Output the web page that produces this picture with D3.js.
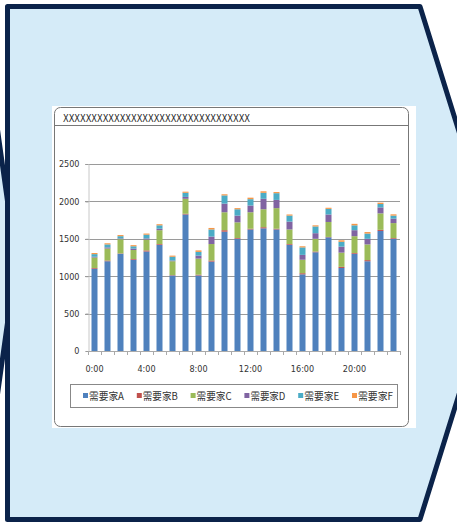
<!DOCTYPE html>
<html>
<head>
<meta charset="utf-8">
<script src="https://cdn.jsdelivr.net/npm/d3@7"></script>
<style>
  html, body { margin: 0; padding: 0; background: #fff; }
  svg { display: block; }
</style>
</head>
<body>
<svg id="chart" width="457" height="523"></svg>
<script>
// data
var hours = d3.range(24);
var hourLabels = ['0:00', '4:00', '8:00', '12:00', '16:00', '20:00'];
var seriesNames = ['需要家A', '需要家B', '需要家C', '需要家D', '需要家E', '需要家F'];
var seriesColors = ['#4f81bd', '#c0504d', '#9bbb59', '#8064a2', '#4bacc6', '#f79646'];

var valuesA = [1100, 1200, 1300, 1220, 1330, 1420, 1010, 1825, 1010, 1195, 1595, 1500,
               1625, 1640, 1625, 1420, 1025, 1320, 1520, 1110, 1300, 1200, 1605, 1500];
var valuesB = [10, 10, 5, 10, 15, 10, 5, 10, 10, 15, 20, 10,
               10, 15, 10, 10, 15, 10, 5, 15, 10, 15, 15, 10];
var valuesC = [140, 160, 190, 120, 145, 185, 185, 200, 215, 220, 240, 210,
               220, 240, 275, 195, 180, 170, 200, 190, 225, 210, 220, 200];
var valuesD = [10, 15, 10, 20, 15, 20, 10, 25, 40, 100, 115, 90,
               90, 140, 110, 105, 65, 75, 100, 80, 80, 75, 80, 60];
var valuesE = [35, 40, 30, 30, 50, 45, 50, 55, 50, 95, 110, 85,
               85, 80, 90, 80, 100, 90, 75, 65, 65, 70, 45, 40];
var valuesF = [15, 15, 15, 15, 15, 15, 15, 15, 20, 20, 15, 15,
               20, 20, 15, 15, 15, 15, 15, 20, 20, 20, 18, 17];
var yTicks = [0, 500, 1000, 1500, 2000, 2500];
var titleText = 'XXXXXXXXXXXXXXXXXXXXXXXXXXXXXXXXX';

var rows = hours.map(function(h, i) {
  return {
    hour: h,
    '需要家A': valuesA[i], '需要家B': valuesB[i], '需要家C': valuesC[i],
    '需要家D': valuesD[i], '需要家E': valuesE[i], '需要家F': valuesF[i]
  };
});

var svg = d3.select('#chart');
var navy = '#0b234a';
var paleBlue = '#d5ebf8';

// neighbouring chevron peeking in on the left
svg.append('polygon')
  .attr('points', [[-80, -10], [-22, -10], [16, 262], [-22, 534], [-80, 534]].join(' '))
  .attr('fill', paleBlue)
  .attr('stroke', navy)
  .attr('stroke-width', 5);

// main chevron
svg.append('polygon')
  .attr('points', [[7.5, 6.5], [420, 6.5], [500, 263], [420, 519.5], [7.5, 519.5]].join(' '))
  .attr('fill', paleBlue)
  .attr('stroke', navy)
  .attr('stroke-width', 5)
  .attr('stroke-linejoin', 'round');

// chart card
svg.append('rect')
  .attr('x', 52).attr('y', 106).attr('width', 364).attr('height', 322)
  .attr('fill', '#fff');
svg.append('rect')
  .attr('x', 54.5).attr('y', 107.5).attr('width', 354).attr('height', 319)
  .attr('rx', 6)
  .attr('fill', '#fff')
  .attr('stroke', '#777')
  .attr('stroke-width', 1);
svg.append('line')
  .attr('x1', 55).attr('x2', 408).attr('y1', 125.5).attr('y2', 125.5)
  .attr('stroke', '#777');
svg.append('text')
  .attr('x', 63).attr('y', 121.5)
  .attr('font-family', '"DejaVu Sans Condensed", "Liberation Sans Narrow", sans-serif')
  .attr('font-size', 10)
  .attr('fill', '#222')
  .attr('textLength', 187)
  .attr('lengthAdjust', 'spacingAndGlyphs')
  .text(titleText);

// scales
var plotLeft = 88, plotRight = 400, plotTop = 164, plotBottom = 351;

var x = d3.scaleBand()
  .domain(hours)
  .range([plotLeft, plotRight])
  .padding(0);

var y = d3.scaleLinear()
  .domain([0, 2500])
  .range([plotBottom, plotTop]);

var barWidth = 6;
var axisFont = '"DejaVu Sans Condensed", "Liberation Sans Narrow", sans-serif';

// gridlines
svg.append('g').selectAll('line')
  .data(yTicks.filter(function(d) { return d > 0; }))
  .enter().append('line')
  .attr('x1', plotLeft - 3).attr('x2', plotRight)
  .attr('y1', function(d) { return Math.round(y(d)) + 0.5; })
  .attr('y2', function(d) { return Math.round(y(d)) + 0.5; })
  .attr('stroke', '#9a9a9a');

// y axis
var yAxis = svg.append('g')
  .attr('transform', 'translate(' + (plotLeft + 0.5) + ',0)')
  .call(d3.axisLeft(y).tickValues(yTicks).tickFormat(d3.format('d')).tickSize(3).tickPadding(6));
yAxis.select('.domain').attr('stroke', '#c8c8c8');
yAxis.selectAll('.tick line').attr('stroke', '#9a9a9a');
yAxis.selectAll('.tick text')
  .attr('font-family', axisFont)
  .attr('font-size', 9)
  .attr('fill', '#333');

// stacked bars
var stack = d3.stack().keys(seriesNames);
var layers = stack(rows);

svg.append('g').selectAll('g')
  .data(layers)
  .enter().append('g')
  .attr('fill', function(d, i) { return seriesColors[i]; })
  .selectAll('rect')
  .data(function(d) { return d; })
  .enter().append('rect')
  .attr('x', function(d) { return x(d.data.hour) + (x.step() - barWidth) / 2; })
  .attr('width', barWidth)
  .attr('y', function(d) { return y(d[1]); })
  .attr('height', function(d) { return y(d[0]) - y(d[1]); });

// x axis with ticks on band boundaries
var xAxisG = svg.append('g');
xAxisG.append('line')
  .attr('x1', plotLeft).attr('x2', plotRight)
  .attr('y1', plotBottom + 0.5).attr('y2', plotBottom + 0.5)
  .attr('stroke', '#aaa');
xAxisG.selectAll('line.tick')
  .data(hours.concat([24]))
  .enter().append('line')
  .attr('class', 'tick')
  .attr('x1', function(h) { return (h < 24 ? x(h) : plotRight) + 0.5; })
  .attr('x2', function(h) { return (h < 24 ? x(h) : plotRight) + 0.5; })
  .attr('y1', plotBottom).attr('y2', plotBottom + 4)
  .attr('stroke', '#aaa');
xAxisG.selectAll('text')
  .data(hourLabels)
  .enter().append('text')
  .attr('x', function(d, i) { return x(i * 4) + x.step() / 2; })
  .attr('y', 372)
  .attr('text-anchor', 'middle')
  .attr('font-family', axisFont)
  .attr('font-size', 9)
  .attr('fill', '#333')
  .text(function(d) { return d; });

// legend
var legend = svg.append('g');
legend.append('rect')
  .attr('x', 70.5).attr('y', 384.5).attr('width', 327).attr('height', 23)
  .attr('fill', '#fff')
  .attr('stroke', '#888');
var items = legend.selectAll('g.item')
  .data(seriesNames)
  .enter().append('g')
  .attr('class', 'item')
  .attr('transform', function(d, i) { return 'translate(' + (83 + i * 53.8) + ',396)'; });
items.append('rect')
  .attr('x', 0).attr('y', -3).attr('width', 5).attr('height', 5)
  .attr('fill', function(d, i) { return seriesColors[i]; });
items.append('text')
  .attr('x', 6).attr('y', 4)
  .attr('font-family', '"Noto Sans CJK JP", sans-serif')
  .attr('font-size', 10)
  .attr('fill', '#333')
  .attr('textLength', 35)
  .attr('lengthAdjust', 'spacingAndGlyphs')
  .text(function(d) { return d; });
</script>
</body>
</html>
